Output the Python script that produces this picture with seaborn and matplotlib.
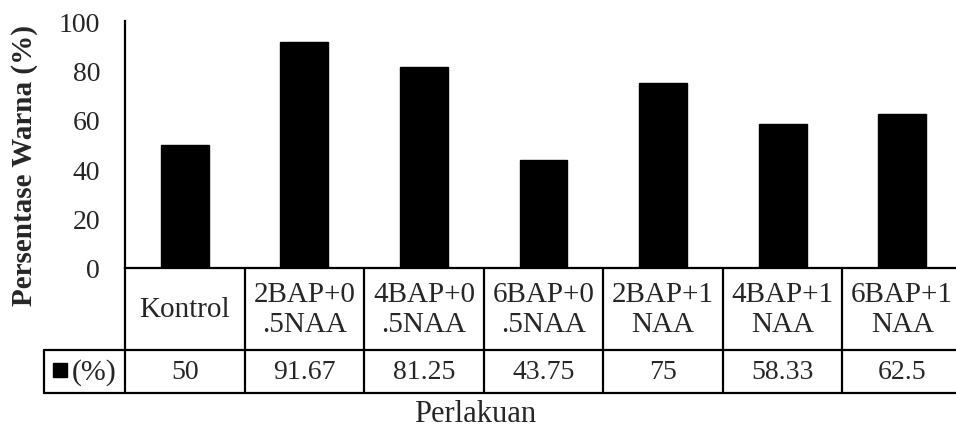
import matplotlib
matplotlib.use("Agg")
import matplotlib.pyplot as plt
import seaborn as sns
import pandas as pd
from matplotlib.transforms import blended_transform_factory

categories = ["Kontrol", "2BAP+0\n.5NAA", "4BAP+0\n.5NAA", "6BAP+0\n.5NAA",
              "2BAP+1\nNAA", "4BAP+1\nNAA", "6BAP+1\nNAA"]
value_labels = ["50", "91.67", "81.25", "43.75", "75", "58.33", "62.5"]
values = [50, 91.67, 81.25, 43.75, 75, 58.33, 62.5]
yticks = [0, 20, 40, 60, 80, 100]

sns.set_theme(style="white")
plt.rcParams["font.family"] = ["Liberation Serif", "DejaVu Sans"]

W, H = 956, 431
fig = plt.figure(figsize=(W / 100, H / 100), dpi=100)
left, right, bottom, top = 125, 962, 269, 22
ax = fig.add_axes([left / W, (H - bottom) / H, (right - left) / W, (bottom - top) / H])

df = pd.DataFrame({"cat": categories, "val": values})
sns.barplot(data=df, x="cat", y="val", color="black", width=0.4, ax=ax,
            saturation=1, edgecolor="black")
ax.set_xlim(-0.5, len(categories) - 0.5)
ax.set_ylim(0, 100)
ax.set_yticks(yticks)
ax.set_yticklabels([str(t) for t in yticks], fontsize=20)
ax.tick_params(axis="y", length=0, pad=18)
ax.set_xticks([])
ax.set_xlabel("")
ax.set_ylabel("")
fig.text(25 / W, 1 - 166 / H, "Persentase Warna (%)", rotation=90, ha="center",
         va="center", fontsize=21, fontweight="bold")
for s in ["top", "right"]:
    ax.spines[s].set_visible(False)
for s in ["left", "bottom"]:
    ax.spines[s].set_linewidth(1.6)
    ax.spines[s].set_color("black")

# data table below the axes
ah = bottom - top
colw = (right - left) / len(categories)
r1 = -(351 - bottom) / ah
r2 = -(394 - bottom) / ah
tr = blended_transform_factory(ax.transData, ax.transAxes)
x_left_hdr = (44 - left) / colw - 0.5
lw = 1.6
kw = dict(color="black", lw=lw, transform=tr, clip_on=False)
n = len(categories)
ax.plot([x_left_hdr, n - 0.5], [r1, r1], **kw)
ax.plot([x_left_hdr, n - 0.5], [r2, r2], **kw)
ax.plot([x_left_hdr, x_left_hdr], [r1, r2], **kw)
for i in range(n + 1):
    ax.plot([i - 0.5, i - 0.5], [0, r2], **kw)
for i, (c, v) in enumerate(zip(categories, value_labels)):
    ax.text(i, r1 / 2, c, ha="center", va="center", fontsize=21,
            transform=tr, linespacing=1.15)
    ax.text(i, (r1 + r2) / 2, v, ha="center", va="center", fontsize=20,
            transform=tr)
ax.plot([(60 - left) / colw - 0.5], [-(371 - bottom) / ah], marker="s",
        markersize=10, color="black", transform=tr, clip_on=False)
ax.text((72 - left) / colw - 0.5, (r1 + r2) / 2, "(%)", ha="left", va="center",
        fontsize=21.5, transform=tr)

fig.text(475 / W, 1 - 415 / H, "Perlakuan", ha="center", va="center", fontsize=22)

fig.savefig("out.png", dpi=100)
